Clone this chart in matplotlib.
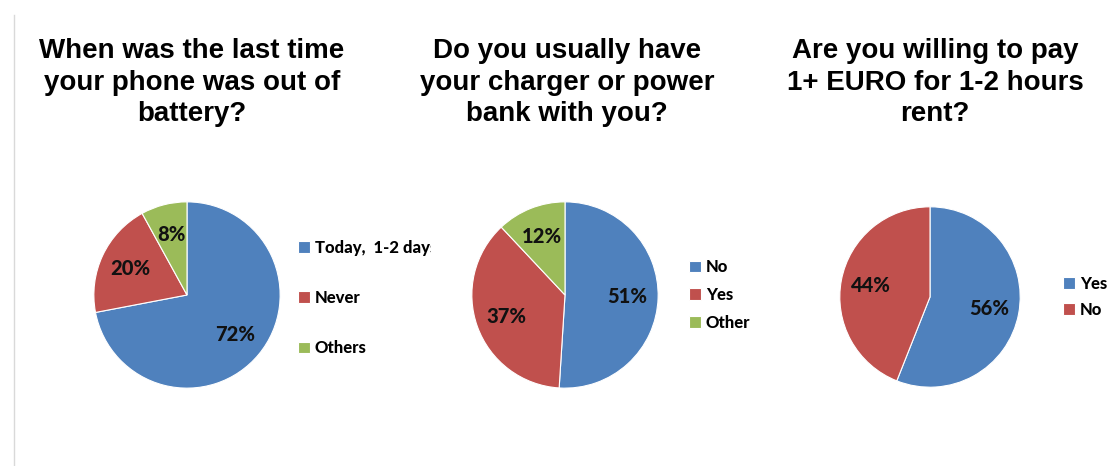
import matplotlib.pyplot as plt
from matplotlib.lines import Line2D
from matplotlib.patches import Rectangle

W, H = 1115, 466

titles = [
    "When was the last time\nyour phone was out of\nbattery?",
    "Do you usually have\nyour charger or power\nbank with you?",
    "Are you willing to pay\n1+ EURO for 1-2 hours\nrent?",
]

labels1 = ["Today,  1-2 days", "Never", "Others"]
values1 = [72, 20, 8]

labels2 = ["No", "Yes", "Other"]
values2 = [51, 37, 12]

labels3 = ["Yes", "No"]
values3 = [56, 44]

colors = ["#4F81BD", "#C0504D", "#9BBB59"]

fig = plt.figure(figsize=(W / 100, H / 100), dpi=100)
fig.patch.set_facecolor("white")

# faint border line at left
fig.add_artist(Line2D([14 / W, 14 / W], [0, 1 - 15 / H], transform=fig.transFigure,
                      color="#d9d9d9", lw=1))


def px_axes(cx, cy, r):
    return fig.add_axes([(cx - r) / W, 1 - (cy + r) / H, 2 * r / W, 2 * r / H])


specs = [
    # values, labels, title, center, radius, title x, legend (x, y), labelspacing
    (values1, labels1, titles[0], (187, 295), 95, 192, (290, 298), 2.05),
    (values2, labels2, titles[1], (565, 295), 95, 567, (681, 295), 0.7),
    (values3, labels3, titles[2], (930, 297), 92, 935, (1055, 297), 0.6),
]

for vals, labs, ttl, (cx, cy), r, tx, (lx, ly), lsp in specs:
    ax = px_axes(cx, cy, r)
    wedges, _, autotexts = ax.pie(
        vals, colors=colors[:len(vals)], startangle=90, counterclock=False,
        autopct="%d%%", pctdistance=0.67,
        wedgeprops=dict(edgecolor="white", linewidth=0.8),
        textprops=dict(fontsize=14.5, fontweight="black", family="Lato", color="#111111"))
    ax.set_xlim(-1.02, 1.02)
    ax.set_ylim(-1.02, 1.02)
    ax.set_aspect("equal")

    fig.text(tx / W, 1 - 38 / H, ttl, ha="center", va="top", fontsize=20,
             fontweight="bold", family="Liberation Sans", linespacing=1.28)

    fig.legend(wedges, labs, loc="center left", bbox_to_anchor=(lx / W, 1 - ly / H),
               bbox_transform=fig.transFigure, frameon=False,
               handlelength=0.7, handleheight=0.7, handletextpad=0.3,
               labelspacing=lsp, borderpad=0,
               prop=dict(family="Lato", weight="black", size=12))

# the first legend label is cut off at the right edge of its box
fig.add_artist(Rectangle((431 / W, 1 - 270 / H), 20 / W, 45 / H, transform=fig.transFigure,
                         facecolor="white", edgecolor="none", zorder=20))

fig.savefig("out.png", dpi=100, facecolor="white")
